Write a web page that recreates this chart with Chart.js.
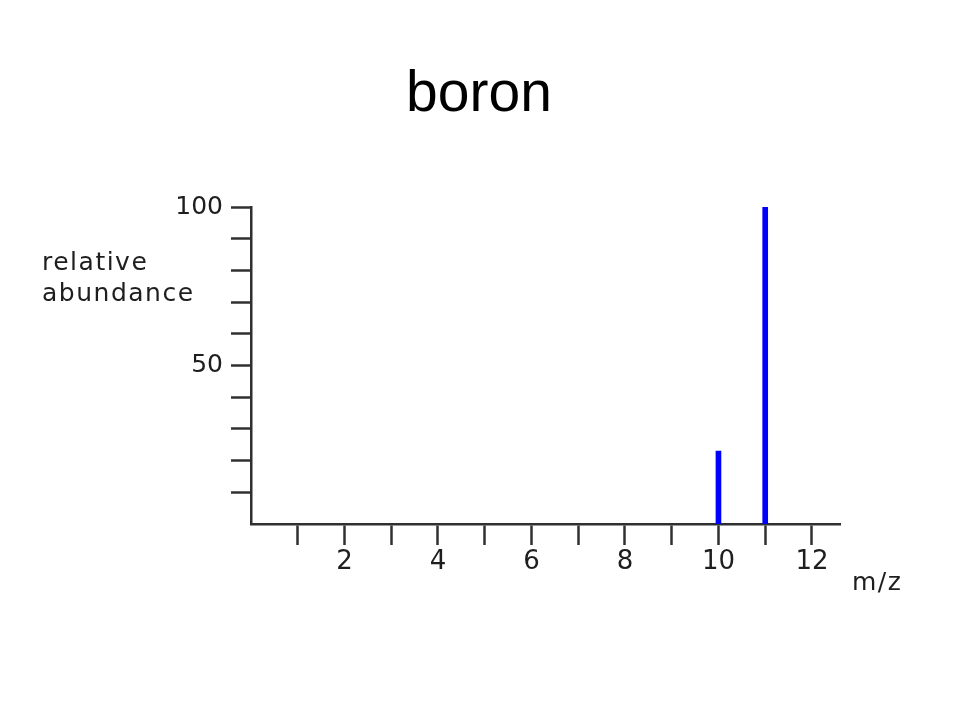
<!DOCTYPE html>
<html>
<head>
<meta charset="utf-8">
<script src="https://cdn.jsdelivr.net/npm/chart.js@4/dist/chart.umd.min.js"></script>
<style>
  html, body { margin: 0; padding: 0; background: #ffffff; }
  #wrap { width: 960px; height: 720px; }
</style>
</head>
<body>
<div id="wrap"><canvas id="c" width="960" height="720"></canvas></div>
<script>
// ---- data ----
const chartTitle = 'boron';
const mzValues = [10, 11];
const abundance = [23, 100];
const xTickValues = [1, 2, 3, 4, 5, 6, 7, 8, 9, 10, 11, 12];
const xLabelValues = [2, 4, 6, 8, 10, 12];
const yTickValues = [10, 20, 30, 40, 50, 60, 70, 80, 90, 100];
const yLabelValues = [50, 100];
const yAxisLabelLines = ['relative', 'abundance'];
const xAxisLabel = 'm/z';

const axisColor = '#303030';
const textColor = '#1e1e1e';

const textPlugin = {
  id: 'textPlugin',
  afterDraw(chart) {
    const ctx = chart.ctx;
    ctx.save();
    // title
    ctx.fillStyle = '#000000';
    ctx.font = '57px "Liberation Sans"';
    ctx.textAlign = 'center';
    ctx.textBaseline = 'alphabetic';
    ctx.fillText(chartTitle, 479, 111);
    // axis labels
    ctx.fillStyle = textColor;
    ctx.font = '25px "DejaVu Sans"';
    try { ctx.letterSpacing = '1.5px'; } catch (e) {}
    ctx.textAlign = 'left';
    ctx.fillText(yAxisLabelLines[0], 42, 270);
    ctx.fillText(yAxisLabelLines[1], 42, 301);
    ctx.fillText(xAxisLabel, 852, 590);
    ctx.restore();
  }
};

new Chart(document.getElementById('c'), {
  type: 'bar',
  data: {
    datasets: [{
      data: mzValues.map((x, i) => ({ x: x, y: abundance[i] })),
      backgroundColor: '#0000ff',
      borderWidth: 0,
      barThickness: 5
    }]
  },
  options: {
    responsive: false,
    animation: false,
    layout: { padding: { left: 0, right: 120, top: 207, bottom: 0 } },
    plugins: {
      legend: { display: false },
      tooltip: { enabled: false },
      title: { display: false }
    },
    scales: {
      x: {
        type: 'linear',
        min: 0,
        max: 12.6,
        offset: false,
        afterBuildTicks(scale) {
          scale.ticks = xTickValues.map(v => ({ value: v }));
        },
        afterFit(scale) { scale.height = 196; },
        ticks: {
          autoSkip: false,
          maxRotation: 0,
          padding: 2,
          color: textColor,
          font: { family: 'DejaVu Sans', size: 26 },
          callback: v => xLabelValues.includes(v) ? String(v) : ''
        },
        grid: {
          offset: false,
          drawOnChartArea: false,
          drawTicks: true,
          tickLength: 21,
          tickColor: axisColor,
          tickWidth: 2.5
        },
        border: { display: true, color: axisColor, width: 2.5 }
      },
      y: {
        min: 0,
        max: 100,
        afterBuildTicks(scale) {
          scale.ticks = yTickValues.map(v => ({ value: v }));
        },
        afterFit(scale) { scale.width = 251; },
        ticks: {
          autoSkip: false,
          padding: 8,
          color: textColor,
          font: { family: 'DejaVu Sans', size: 25 },
          callback: v => yLabelValues.includes(v) ? String(v) : ''
        },
        grid: {
          drawOnChartArea: false,
          drawTicks: true,
          tickLength: 20,
          tickColor: axisColor,
          tickWidth: 2.5
        },
        border: { display: true, color: axisColor, width: 2.5 }
      }
    }
  },
  plugins: [textPlugin]
});
</script>
</body>
</html>
